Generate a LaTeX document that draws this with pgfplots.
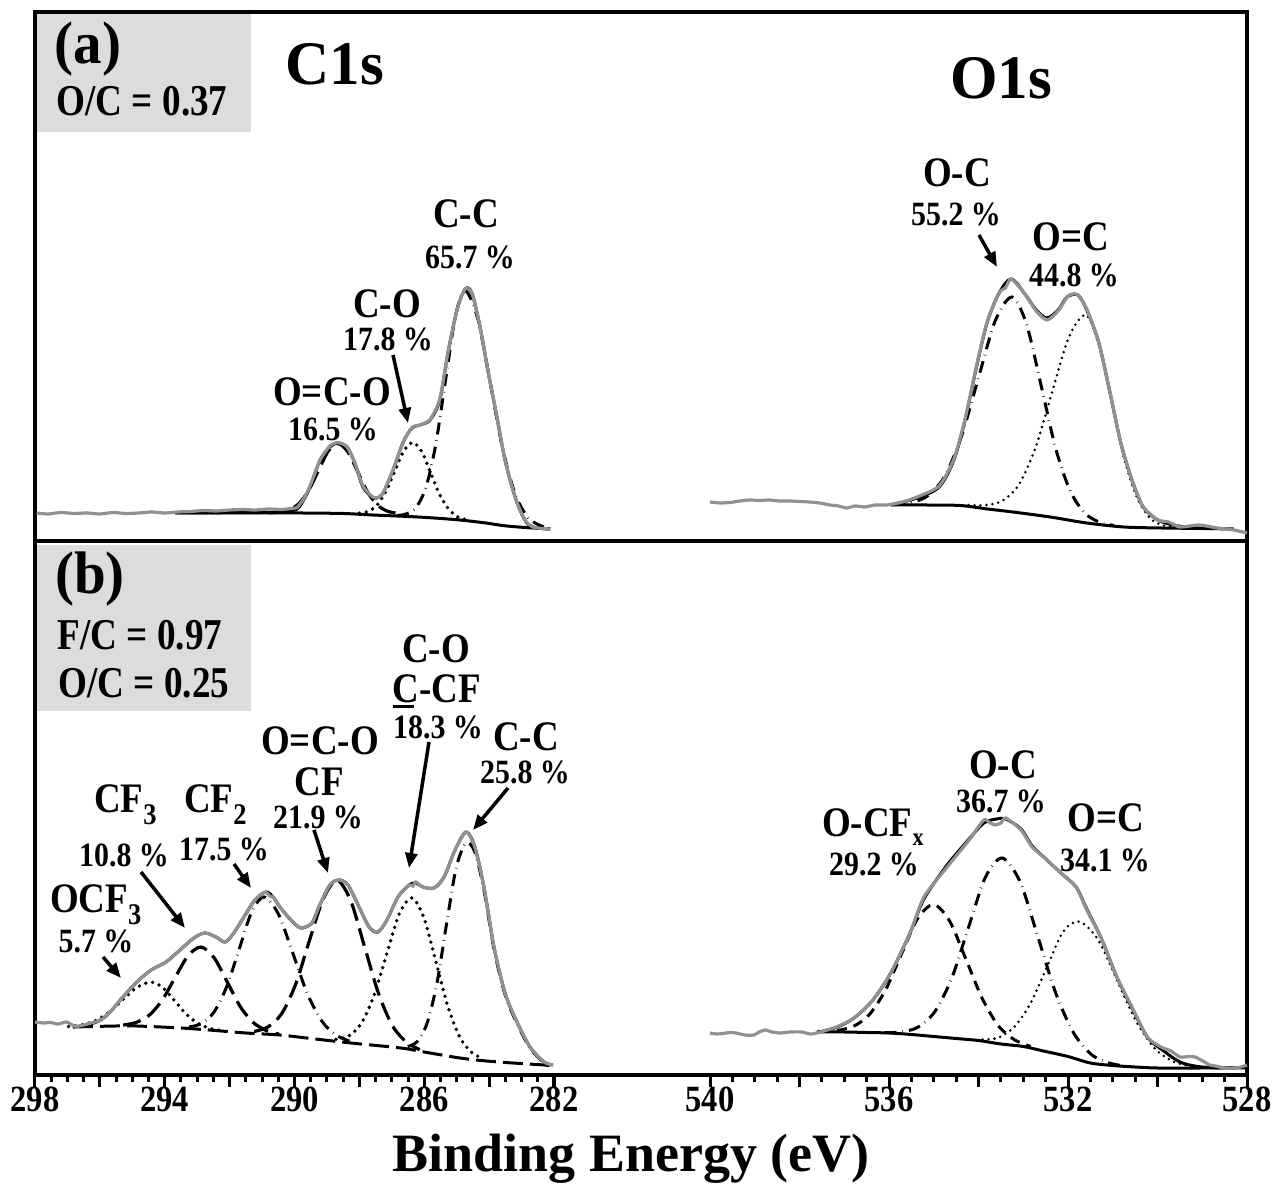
\documentclass[border=0pt]{standalone}
\usepackage{fontspec}
\setmainfont{Liberation Serif}
\usepackage{pgfplots}
\pgfplotsset{compat=1.18}
\usetikzlibrary{arrows.meta}
\definecolor{rawgray}{RGB}{145,145,145}
\definecolor{boxgray}{RGB}{220,220,220}
\newcommand\fs[1]{\fontsize{#1}{#1}\selectfont}
\newcommand\sub[1]{\raisebox{-12pt}{\fs{30}#1}}
\pgfplotsset{
  ax/.style={scale only axis, anchor=south west, x dir=reverse, enlargelimits=false, clip=false},
  topax/.style={ax, hide axis, ymin=0, ymax=529, height=529pt},
  botax/.style={ax, ymin=0, ymax=534, height=534pt, axis x line=bottom, axis y line=none,
    x axis line style={-, line width=4pt}, tick align=outside,
    major tick length=12pt, minor tick length=7pt,
    major tick style={line width=3pt, black}, minor tick style={line width=3pt, black},
    minor x tick num=3, xticklabel style={font=\bfseries\fs{37}, xscale=0.88, yshift=4pt},
    /pgf/number format/assume math mode=true},
  c1s/.style={xmin=282, xmax=298, width=519pt},
  o1s/.style={xmin=528, xmax=540, width=537pt},
  raw/.style={rawgray, line width=3.2pt, smooth, tension=0.4},
  env/.style={black, line width=3pt, smooth, tension=0.5},
  bgl/.style={black, line width=3pt, smooth},
  dotc/.style={black, line width=3.8pt, line cap=round, dash pattern=on 0pt off 7pt, smooth},
  fdotc/.style={black, line width=2.8pt, line cap=round, dash pattern=on 0pt off 6pt, smooth},
  dashdotc/.style={black, line width=3pt, dash pattern=on 12pt off 6pt on 0.5pt off 6pt, smooth},
  longdash/.style={black, line width=3.2pt, dash pattern=on 18pt off 8pt, smooth},
  dashc/.style={black, line width=3pt, dash pattern=on 10pt off 7pt, smooth},
  frame/.style={scale only axis, anchor=south west, width=1212pt, xmin=0, xmax=1, ymin=0, ymax=1,
    xtick=\empty, ytick=\empty, axis line style={line width=4pt}},
}
\tikzset{lab/.style={font=\bfseries, inner sep=0pt, anchor=center, xscale=0.88},
  big/.style={font=\bfseries\fs{42}},
  pct/.style={font=\bfseries\fs{34}},
  arr/.style={line width=3.5pt, -{Triangle[length=15pt, width=12pt]}}}
\begin{document}
\begin{tikzpicture}[x=1pt, y=1pt]
\path[use as bounding box] (0,0) rectangle (1276,1185);
\fill[boxgray] (37,1053) rectangle (251,1171);
\fill[boxgray] (37,474) rectangle (251,640);

% frames
\begin{axis}[frame, at={(35pt,644pt)}, height=529pt]
\addplot[draw=none] coordinates {(0,0)};
\end{axis}
\begin{axis}[frame, at={(35pt,110pt)}, height=534pt]
\addplot[draw=none] coordinates {(0,0)};
\end{axis}

% ---------- (a) C1s ----------
\begin{axis}[topax, c1s, at={(35pt,644pt)}]
\addplot[bgl] coordinates {(293.68,28) (291,28) (289.8,28) (288.5,27.5) (287.6,26) (286.5,24.5) (285.7,23) (284.9,21) (284.1,18) (283.6,15.5) (283.1,14) (282.65,13) (282.12,12)};
\addplot[longdash] coordinates {(290.8,28.2) (290.46,28.8) (290.16,31.1) (289.86,37.5) (289.56,50.7) (289.26,70.5) (288.96,89.8) (288.66,97.5) (288.36,89.3) (288.06,70) (287.76,49.7) (287.46,36.5) (287.16,30.1) (286.86,27.8) (286.5,26)};
\addplot[dotc] coordinates {(288.0,27.8) (287.725,29.7) (287.45,36.0) (287.175,50.0) (286.90,70.4) (286.625,90.3) (286.35,98.5) (286.075,89.3) (285.80,67.9) (285.525,46.5) (285.25,32.0) (284.975,24.2) (284.70,21.3)};
\addplot[dashdotc] coordinates {(286.84,25.5) (286.54,27.1) (286.24,34.1) (285.94,54.3) (285.64,97.5) (285.34,161.6) (285.04,224.4) (284.74,250.5) (284.35,222.4) (283.96,157.1) (283.57,90.5) (283.18,45.3) (282.79,23.1) (282.40,15.1) (282.12,12.5)};
\addplot[env] coordinates {(293.68,28) (292.5,28.2) (291,28.5) (290.3,29.5) (289.92,32) (289.72,41) (289.52,54) (289.21,81) (288.91,94) (288.66,98) (288.38,94) (288.14,78) (287.89,54) (287.61,44) (287.46,43) (287.27,48) (286.96,71) (286.66,98) (286.38,113) (286.13,116) (285.82,121) (285.52,141) (285.27,188) (284.99,231) (284.74,252) (284.53,248) (284.28,214) (284.04,171) (283.76,124) (283.51,81) (283.20,44) (282.90,21) (282.65,14) (282.12,12)};
\addplot[raw] coordinates {(297.95,28) (297.6,27) (297.2,28.5) (296.8,27.5) (296.4,28) (296.0,27) (295.6,28.5) (295.2,27.5) (294.8,28) (294.4,29) (294.0,28) (293.6,29) (293.2,29.5) (292.8,30.5) (292.4,30) (292.0,31) (291.6,31.5) (291.2,31) (290.8,32) (290.4,31.5) (290.1,32.5) (289.92,33.5) (289.72,42) (289.52,55) (289.21,81) (288.91,95) (288.66,98.5) (288.38,94) (288.14,78) (287.89,55) (287.61,44.5) (287.46,43) (287.27,48) (286.96,71.5) (286.66,98) (286.38,113.5) (286.13,116) (285.82,121.5) (285.52,142) (285.27,188) (284.99,231) (284.74,252) (284.53,248) (284.28,214) (284.04,171) (283.76,124) (283.51,81) (283.20,44) (282.90,21) (282.65,14) (282.35,12.5) (282.12,12)};
\end{axis}

% ---------- (a) O1s ----------
\begin{axis}[topax, o1s, at={(710pt,644pt)}]
\addplot[bgl] coordinates {(535.96,36) (535.2,36) (534.41,35.5) (533.8,32) (533.23,29) (532.40,24) (531.58,18) (530.75,14) (529.92,13) (529.0,12.5) (528.3,12)};
\addplot[dashdotc] coordinates {(535.9,36.3) (535.5,38.4) (535.125,45.4) (534.75,65) (534.375,105.5) (534.0,163.3) (533.625,220.4) (533.25,244) (532.925,216.4) (532.6,155.3) (532.275,92.5) (531.95,50) (531.625,27.9) (531.3,18.9) (530.975,15.5)};
\addplot[fdotc] coordinates {(534.225,36) (533.85,35.8) (533.475,40.1) (533.1,56.1) (532.725,93.5) (532.35,149.7) (531.975,204.6) (531.6,226) (531.31,196) (531.02,139) (530.73,80) (530.44,41.6) (530.15,22.1) (529.86,15.3) (529.57,13.5)};
\addplot[env] coordinates {(535.96,36) (535.37,43) (534.88,54) (534.55,81) (534.30,121) (534.06,171) (533.81,218) (533.54,248) (533.27,262) (532.98,248) (532.71,231) (532.47,223) (532.22,231) (532.02,244) (531.78,246) (531.58,231) (531.31,198) (531.06,148) (530.82,98) (530.57,61) (530.32,34) (529.99,21) (529.65,16) (529.30,13.5) (528.9,12.5)};
\addplot[raw] coordinates {(540.0,39) (539.78,38) (539.55,38.5) (539.33,40) (539.11,41) (538.9,40.5) (538.68,41) (538.45,40) (538.21,40) (538.0,39.5) (537.77,39) (537.55,38) (537.32,36) (537.13,35) (536.94,33) (536.76,35) (536.54,34) (536.31,36) (536.04,36) (535.7,39) (535.37,44) (534.88,55) (534.55,82) (534.30,122) (534.06,172) (533.81,219) (533.54,248) (533.40,253) (533.27,262) (532.98,248) (532.71,230) (532.47,221) (532.22,230) (532.02,244) (531.90,247) (531.78,246) (531.58,232) (531.31,198) (531.06,148) (530.82,98) (530.57,61) (530.32,34) (529.99,21) (529.75,19) (529.5,14) (529.07,16) (528.67,13) (528.3,11) (528.0,8)};
\end{axis}

% ---------- (b) C1s ----------
\begin{axis}[botax, c1s, at={(35pt,110pt)}, xtick={282,284,...,298}, xticklabels={282,,286,,290,,294,,298}]
\addplot[black, line width=3pt, dash pattern=on 20pt off 7pt, smooth] coordinates {(296.83,48) (295.5,49) (294.86,49) (293.5,47) (292.64,45) (291.5,42) (290.45,40) (289.5,36.5) (288.26,32) (287.0,28) (286.5,26) (286.0,23) (285.0,17.5) (284.41,15) (283.5,12.5) (282.31,10) (282.03,9)};
\addplot[dotc] coordinates {(296.97,48.5) (296.545,50.3) (296.12,54.5) (295.695,63.4) (295.27,76) (294.845,87.8) (294.42,93) (294.06,87.3) (293.70,74.5) (293.34,60.9) (292.98,51.7) (292.62,46.7) (292.26,44.5)};
\addplot[longdash] coordinates {(295.28,49.9) (294.88,52.6) (294.48,59.7) (294.08,74.8) (293.68,97.5) (293.28,119.3) (292.88,128) (292.48,117.3) (292.08,93.5) (291.68,68.8) (291.28,52.7) (290.88,44.6) (290.48,40.9)};
\addplot[dashdotc] coordinates {(293.25,48) (292.865,51.5) (292.48,63) (292.095,88) (291.71,125.3) (291.325,162.7) (290.94,178) (290.495,160.9) (290.05,121.7) (289.605,81.5) (289.16,54) (288.715,39.8) (288.27,33.5)};
\addplot[longdash] coordinates {(291.24,43.5) (290.815,48.1) (290.39,61.6) (289.965,90.7) (289.54,134.4) (289.115,176) (288.69,194.8) (288.265,174.1) (287.84,128.3) (287.415,82) (286.99,49.8) (286.565,33.3) (286.14,25.3)};
\addplot[dotc] coordinates {(288.72,35.7) (288.33,39) (287.94,51.6) (287.55,79.4) (287.16,120.7) (286.77,161.1) (286.38,177) (286.01,157.1) (285.64,113.2) (285.27,68.4) (284.90,37.6) (284.53,22.3) (284.16,16.1)};
\addplot[dashdotc] coordinates {(286.51,28.4) (286.21,33.6) (285.91,52.1) (285.61,91.4) (285.31,151.5) (285.01,208) (284.71,232) (284.44,223) (284.16,185) (283.85,126) (283.51,80.5) (283.17,53.5) (282.74,27) (282.31,12.2)};
\addplot[env] coordinates {(296.83,48) (296.4,50) (295.97,55) (295.63,65) (295.29,78) (294.86,93) (294.42,105) (293.96,113) (293.53,125) (293.10,137) (292.76,142) (292.42,138) (292.14,133) (291.87,142) (291.56,158) (291.22,175) (290.88,183) (290.66,178) (290.45,168) (290.11,155) (289.80,147) (289.46,152) (289.25,168) (288.91,190) (288.63,195) (288.35,190) (288.01,168) (287.70,148) (287.43,143) (287.15,155) (286.81,178) (286.47,190) (286.26,192) (286.04,188) (285.70,187) (285.39,198) (285.05,225) (284.71,243) (284.44,228) (284.16,188) (283.85,128) (283.51,82) (283.17,55) (282.74,28) (282.31,13) (282.03,10)};
\addplot[raw] coordinates {(298.0,53) (297.75,52) (297.51,52.5) (297.3,51) (297.04,53) (296.9,51) (296.74,48.5) (296.5,50) (296.27,52) (295.97,55) (295.63,65) (295.29,78) (294.86,93) (294.42,105) (293.96,113) (293.53,125) (293.10,137) (292.76,142) (292.42,138) (292.14,133) (291.87,142) (291.56,158) (291.22,175) (291.05,180) (290.88,183) (290.77,179) (290.66,178) (290.45,168) (290.11,155) (289.80,147) (289.46,152) (289.25,168) (288.91,190) (288.63,195) (288.35,190) (288.01,168) (287.70,148) (287.43,143) (287.15,155) (286.81,178) (286.47,190) (286.35,189) (286.26,193) (286.04,188) (285.70,187) (285.39,198) (285.05,225) (284.71,243) (284.44,228) (284.16,188) (283.85,128) (283.51,82) (283.17,55) (282.74,28) (282.31,13) (282.03,10)};
\end{axis}

% ---------- (b) O1s ----------
\begin{axis}[botax, o1s, at={(710pt,110pt)}, xtick={528,530,...,540}, xticklabels={528,,532,,536,,540}]
\addplot[bgl] coordinates {(537.61,43) (537,43) (536.5,42.5) (536,42) (535.5,40.5) (535,38.5) (534.5,36.5) (534,34.5) (533.5,31) (533,28.5) (532.5,23.5) (532,18.5) (531.5,12) (531,9.5) (530.5,8) (530,7) (529,7) (528.0,7)};
\addplot[dashc] coordinates {(537.16,44.5) (536.8,48.5) (536.44,60.4) (536.08,84.9) (535.72,121.1) (535.36,156.5) (535.0,170.5) (534.64,153.5) (534.28,115.6) (533.92,76.9) (533.56,49.4) (533.2,35.3) (532.84,28.5)};
\addplot[dashdotc] coordinates {(536.1,42.3) (535.72,43.1) (535.345,48) (534.97,63.7) (534.595,97.2) (534.22,148.1) (533.845,197.8) (533.47,217) (533.07,193.1) (532.67,137.8) (532.27,81.4) (531.87,41.7) (531.47,20.2) (531.07,11.9) (530.67,8.5)};
\addplot[fdotc] coordinates {(533.91,35.5) (533.55,37.4) (533.19,48.6) (532.83,72.2) (532.47,108.1) (532.11,143.1) (531.75,153.5) (531.325,135.1) (530.90,94.4) (530.475,53.5) (530.05,25.9) (529.625,13.1) (529.2,8.6) (528.8,7.2)};
\addplot[env] coordinates {(537.61,42.5) (537.18,47.5) (536.78,57) (536.36,75) (535.96,102) (535.53,142) (535.22,176) (534.70,210) (534.21,236) (533.88,252) (533.6,256) (533.39,256) (533.05,246) (532.80,229) (532.47,215) (532.16,202) (531.82,188) (531.58,166) (531.24,135) (530.91,98) (530.57,67) (530.23,38) (529.92,26) (529.5,13) (529.1,8.5) (528.7,7.2) (528.3,7)};
\addplot[raw] coordinates {(540.0,42) (539.85,41) (539.71,41.5) (539.56,42.5) (539.42,42) (539.22,40) (539.02,40) (538.9,43) (538.77,45) (538.61,43) (538.44,42) (538.21,43) (537.94,43) (537.77,41) (537.61,42) (537.18,48) (536.78,57) (536.36,75) (535.96,102) (535.53,142) (535.22,178) (534.70,208) (534.21,235) (533.88,255) (533.74,252) (533.63,250) (533.50,252) (533.39,257) (533.05,245) (532.80,228) (532.47,215) (532.16,202) (531.82,188) (531.58,165) (531.24,135) (530.91,98) (530.57,68) (530.23,38) (529.92,28) (529.70,24) (529.50,18) (529.30,18.5) (529.16,18) (528.95,13) (528.83,10) (528.65,8.5) (528.51,7) (528.25,7) (528.1,8.5) (528.0,10)};
\end{axis}

% ---------- texts (a) ----------
\node[lab, xscale=1.08, font=\bfseries\fs{60}] at (88,1136) {(a)};
\node[lab, xscale=0.96, font=\bfseries\fs{44}] at (142,1084) {O/C = 0.37};
\node[lab, xscale=1.12, font=\bfseries\fs{62}] at (335,1121) {C1s};
\node[lab, xscale=1.12, font=\bfseries\fs{62}] at (1001,1107) {O1s};
\node[lab, big] at (466,971) {C-C};
\node[lab, pct] at (470,928) {65.7 \%};
\node[lab, big] at (387,881) {C-O};
\node[lab, pct] at (388,846) {17.8 \%};
\node[lab, big] at (332,793) {O=C-O};
\node[lab, pct] at (333,756) {16.5 \%};
\node[lab, big] at (957,1012) {O-C};
\node[lab, pct] at (956,971) {55.2 \%};
\node[lab, big] at (1071,948) {O=C};
\node[lab, pct] at (1074,910) {44.8 \%};
\draw[arr] (393,830) -- (408,762);
\draw[arr] (979,950) -- (997,918);

% ---------- texts (b) ----------
\node[lab, xscale=1.08, font=\bfseries\fs{60}] at (90,606) {(b)};
\node[lab, xscale=0.96, font=\bfseries\fs{44}] at (140,550) {F/C = 0.97};
\node[lab, xscale=0.96, font=\bfseries\fs{44}] at (144,502) {O/C = 0.25};
\node[lab, big] at (436,536) {C-O};
\node[lab, big, anchor=base] at (437,482) {\rlap{\rule[-5pt]{24pt}{2.6pt}}C-CF};
\node[lab, pct] at (438,458) {18.3 \%};
\node[lab, big] at (526,448) {C-C};
\node[lab, pct] at (525,413) {25.8 \%};
\node[lab, big] at (320,444) {O=C-O};
\node[lab, big] at (319,403) {CF};
\node[lab, pct] at (318,368) {21.9 \%};
\node[lab, big, anchor=base west] at (94,372) {CF\sub{3}};
\node[lab, pct] at (124,330) {10.8 \%};
\node[lab, big, anchor=base west] at (184,372) {CF\sub{2}};
\node[lab, pct] at (224,336) {17.5 \%};
\node[lab, big, anchor=base west] at (50,272) {OCF\sub{3}};
\node[lab, pct] at (96,244) {5.7 \%};
\node[lab, big] at (1003,420) {O-C};
\node[lab, pct] at (1001,384) {36.7 \%};
\node[lab, big, anchor=base west] at (822,348) {O-CF\raisebox{-9pt}{\fs{25}x}};
\node[lab, pct] at (874,321) {29.2 \%};
\node[lab, big] at (1106,367) {O=C};
\node[lab, pct] at (1105,325) {34.1 \%};
\draw[arr] (103,228) -- (121,207);
\draw[arr] (141,313) -- (185,257);
\draw[arr] (234,321) -- (251,297);
\draw[arr] (314,355) -- (328,312);
\draw[arr] (429,443) -- (409,317);
\draw[arr] (508,397) -- (473,355);

% x label
\node[font=\bfseries, inner sep=0pt, anchor=base] at (631,13) {\fs{54}Binding Energy (eV)};
\end{tikzpicture}
\end{document}
